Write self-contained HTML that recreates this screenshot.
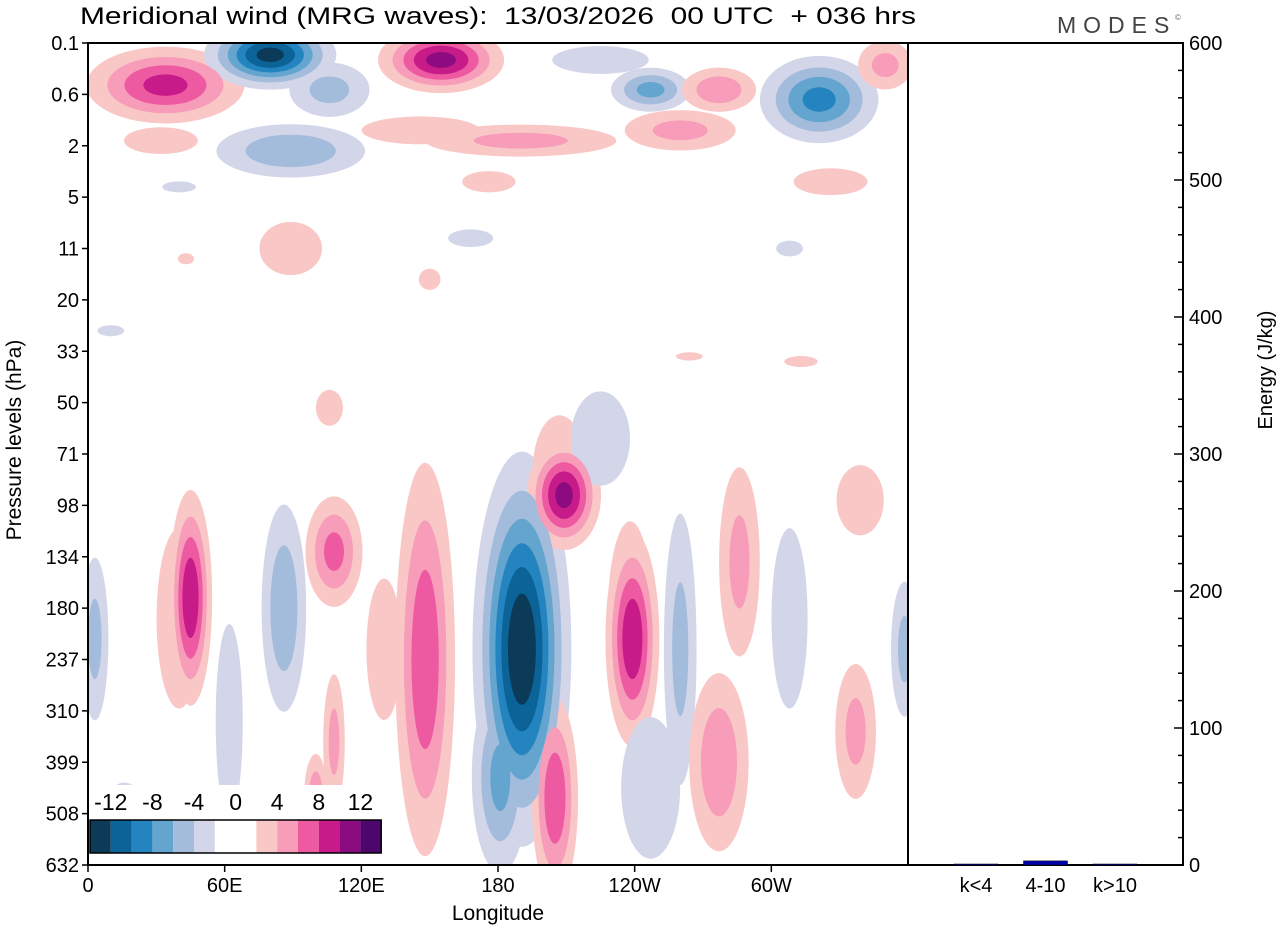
<!DOCTYPE html>
<html><head><meta charset="utf-8"><style>
body{margin:0;background:#fff;}
svg{display:block;font-family:"Liberation Sans",Arial,sans-serif;}
</style></head><body>
<svg id="chart" width="1280" height="930" viewBox="0 0 1280 930" xmlns="http://www.w3.org/2000/svg">
<defs><clipPath id="plotclip"><rect x="88" y="43" width="820" height="822"/></clipPath></defs>
<text x="80" y="24" font-size="24" fill="#000" style="white-space:pre" textLength="836" lengthAdjust="spacingAndGlyphs">Meridional wind (MRG waves):  13/03/2026  00 UTC  + 036 hrs</text>
<text x="1057" y="33" font-size="23" fill="#444" letter-spacing="7" font-weight="300">MODES</text>
<text x="1175" y="20" font-size="8" fill="#666">©</text>
<g id="field" clip-path="url(#plotclip)"></g>
<g id="cbar"></g>
<g id="axes"></g>
<g id="bars"></g>
</svg>
<script>
// Levels (pressure, hPa) and longitudes
const levelLabels=["0.1","0.6","2","5","11","20","33","50","71","98","134","180","237","310","399","508","632"];
const lonTicks=[0,60,120,180,240,300];
const lonLabels=["0","60E","120E","180","120W","60W"];
const cbarLabels=["-12","-8","-4","0","4","8","12"];
// Wave blobs: centre longitude, centre level index, spread lon, spread level, amplitude (m/s)
const blobLon=[3,45,40,86,62,108,148,130,190.5,181,209,207,239,238,205,225,260,247,277,286,308,337,339,358.5,108,100,16,106,
 34,80,106,155,146,89,247,277,321,190,260,225,32,40,176,326,89,168,150,308,264,10,313,43,350];
const blobLev=[11.6,10.8,11.2,11.0,13.2,9.9,12.0,11.8,11.8,14.3,8.8,8.3,11.6,11.2,14.7,7.7,11.8,14.5,14.0,10.1,11.2,13.4,8.9,11.8,13.6,14.7,15.1,7.1,
 0.82,0.23,0.91,0.33,1.7,2.1,0.91,0.91,1.1,1.9,1.7,0.33,1.9,2.8,2.7,2.7,4.0,3.8,4.6,4.0,6.1,5.6,6.2,4.2,0.43];
const blobSLon=[4.4,5.3,11,6.6,6.6,7.9,7.9,6.6,11,7.9,8.8,13,6.6,11,6.1,11,5.3,11,8.8,6.6,8.8,6.6,8.8,4.4,3.5,3.5,11,6.6,
 20,15,13,15,22,22,11,11,15,31,18,18,18,11,13,18,13,11,5.3,8.8,8.8,8.8,11,5.3,8.8];
const blobSLev=[1.17,1.17,1.95,1.36,2.1,0.68,2.3,1.17,1.95,1.17,0.58,1.17,1.17,2.1,1.17,0.78,1.95,1.17,1.17,1.36,1.95,0.97,0.58,0.97,0.97,0.58,0.78,0.39,
 0.43,0.35,0.39,0.35,0.23,0.35,0.27,0.29,0.49,0.23,0.29,0.23,0.29,0.16,0.23,0.29,0.49,0.19,0.23,0.23,0.12,0.16,0.16,0.16,0.35];
const blobAmp=[-5,10,3,-6,-3,7,8,4,-14,-7,11,3,10,3,8,-4,-5,-4,6,5,-3,5,4,-5,5,6,-3,3,
 9,-13,-5,11,4,-6,-7,6,-9,5,5,-4,3,-2.5,3,3,3.5,-3,3,-2.5,2.5,-2.5,2.5,2.5,5];
// Energy bars
const barCats=["k<4","4-10","k>10"];
const barVals=[0.5,3,0.5];
const energyTicks=[0,100,200,300,400,500,600];

const NS="http://www.w3.org/2000/svg";
const X0=88,X1=908,Y0=43,Y1=865;
const xLon=l=>X0+l*(X1-X0)/360;
const yLev=i=>Y0+i*(Y1-Y0)/16;
const sLon=s=>s*(X1-X0)/360, sLev=s=>s*(Y1-Y0)/16;
const EX0=908,EX1=1183;
const yE=v=>Y1-v*(Y1-Y0)/600;
const blues=["#0b3b58","#0b6398","#2384c0","#64a5cf","#a3bcdc","#d3d5e9"];
const pinks=["#f9c8c6","#f79cb9","#ee5aa2","#c71b8a","#8c0b80","#4c066c"];
function mk(tag,attrs,parent){const e=document.createElementNS(NS,tag);for(const k in attrs)e.setAttribute(k,attrs[k]);parent.appendChild(e);return e;}

const field=document.getElementById('field');
const thresholds=[2,4,6,8,10,12];
thresholds.forEach((t,ti)=>{
  blobAmp.forEach((a,i)=>{
    const A=Math.abs(a);if(A<=t)return;
    const r=Math.sqrt(2*Math.log(A/t));
    const col=a<0?blues[5-ti]:pinks[ti];
    const e=mk('ellipse',{cx:xLon(blobLon[i]),cy:yLev(blobLev[i]),rx:sLon(blobSLon[i])*r,ry:sLev(blobSLev[i])*r,fill:col},field);
    
    
  });
});

// colorbar
const cb=document.getElementById('cbar');
mk('rect',{x:88,y:785,width:296,height:71,fill:'#fff'},cb);
const cols=blues.slice().concat(["#fff","#fff"]).concat(pinks);
cols.forEach((c,i)=>{const r=mk('rect',{x:90+i*20.8,y:820,width:20.8,height:33,fill:c},cb);
  });
mk('rect',{x:90,y:820,width:291.2,height:33,fill:'none',stroke:'#000','stroke-width':1.5},cb);
cbarLabels.forEach((l,i)=>{const t=mk('text',{x:90+(1+2*i)*20.8,y:810,'font-size':23,'text-anchor':'middle'},cb);t.textContent=l;
  });

// axes
const ax=document.getElementById('axes');
mk('rect',{x:X0,y:Y0,width:EX1-X0,height:Y1-Y0,fill:'none',stroke:'#000','stroke-width':2},ax);
mk('line',{x1:X1,y1:Y0,x2:X1,y2:Y1,stroke:'#000','stroke-width':2},ax);
levelLabels.forEach((l,i)=>{const y=yLev(i);
  mk('line',{x1:X0-6,y1:y,x2:X0,y2:y,stroke:'#000','stroke-width':1.5},ax);
  const t=mk('text',{x:X0-9,y:y+7,'font-size':20,'text-anchor':'end'},ax);t.textContent=l;
  });
lonTicks.forEach((v,i)=>{const x=xLon(v);
  mk('line',{x1:x,y1:Y1,x2:x,y2:Y1+7,stroke:'#000','stroke-width':1.5},ax);
  const t=mk('text',{x:x,y:892,'font-size':20,'text-anchor':'middle'},ax);t.textContent=lonLabels[i];
  });
let xt=mk('text',{x:498,y:920,'font-size':21,'text-anchor':'middle'},ax);xt.textContent='Longitude';

let yt=mk('text',{x:0,y:0,'font-size':21,'text-anchor':'middle',transform:'translate(21,440) rotate(-90)'},ax);yt.textContent='Pressure levels (hPa)';

for(let v=0;v<=600;v+=20){const y=yE(v);const maj=v%100===0;
  mk('line',{x1:EX1-(maj?9:5),y1:y,x2:EX1,y2:y,stroke:'#000','stroke-width':1.5},ax);}
energyTicks.forEach(v=>{const t=mk('text',{x:EX1+6,y:yE(v)+7,'font-size':20},ax);t.textContent=v;
  });
let et=mk('text',{x:0,y:0,'font-size':20,'text-anchor':'middle',transform:'translate(1272,370) rotate(-90)'},ax);et.textContent='Energy (J/kg)';


// bars
const bg=document.getElementById('bars');
barCats.forEach((c,i)=>{const cx=976+i*69.5;const h=Math.max(1,Y1-yE(barVals[i]));
  const r=mk('rect',{x:cx-22,y:Y1-h,width:44,height:h,fill:'#0000aa',stroke:'#000','stroke-width':0.5},bg);
  
  const t=mk('text',{x:cx,y:892,'font-size':20,'text-anchor':'middle'},bg);t.textContent=c;
  });
</script>
</body></html>
